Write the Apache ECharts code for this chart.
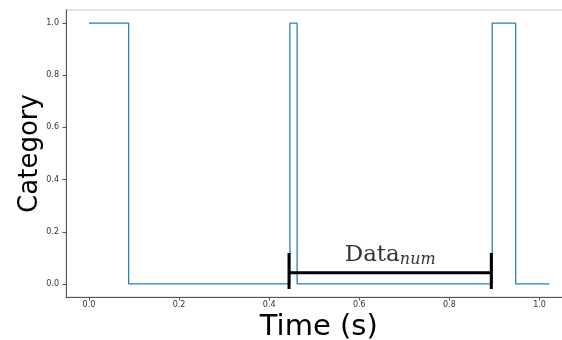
<!DOCTYPE html>
<html>
<head>
<meta charset="utf-8">
<script src="https://cdn.jsdelivr.net/npm/echarts@6/dist/echarts.min.js"></script>
<style>html,body{margin:0;padding:0;background:#fff;}#c{width:562px;height:340px;}</style>
</head>
<body>
<div id="c"></div>
<script>
// Signal transitions: value holds from each time until the next
var times = [0, 0.088, 0.446, 0.462, 0.895, 0.947, 1.022];
var values = [1, 0, 1, 0, 1, 0, 0];
var xTicks = [0, 0.2, 0.4, 0.6, 0.8, 1.0];
var yTicks = [0, 0.2, 0.4, 0.6, 0.8, 1.0];
// Annotation bracket
var bracketX = [0.444, 0.893];
var bracketY = 0.043;
var capY = [-0.019, 0.119];

var stepData = times.map(function (t, i) { return [t, values[i]]; });
var bracketData = [
  [bracketX[0], capY[0]], [bracketX[0], capY[1]], '-',
  [bracketX[0], bracketY], [bracketX[1], bracketY], '-',
  [bracketX[1], capY[0]], [bracketX[1], capY[1]]
];
var labelPoint = [[(bracketX[0] + bracketX[1]) / 2, bracketY]];

var chart = echarts.init(document.getElementById('c'), null, {renderer: 'canvas'});
var tickFmt = function (v) { return (+v).toFixed(1); };
chart.setOption({
  animation: false,
  grid: {left: 66, top: 10, right: -9.5, bottom: 43, outerBoundsMode: 'none', containLabel: false,
         show: true, borderColor: '#c8c8c8', borderWidth: 1, backgroundColor: 'transparent'},
  xAxis: {
    type: 'value', min: -0.051, max: 1.071,
    name: 'Time (s)', nameLocation: 'middle', nameGap: 16, nameMoveOverlap: false,
    nameTextStyle: {fontFamily: 'DejaVu Sans', fontSize: 29, color: '#000'},
    axisLine: {show: true, onZero: false, lineStyle: {color: '#555', width: 1}},
    axisTick: {show: true, length: 3.5, customValues: xTicks, lineStyle: {color: '#555'}},
    axisLabel: {customValues: xTicks, formatter: tickFmt, fontFamily: 'DejaVu Sans', fontSize: 8, color: '#333', margin: 4},
    splitLine: {show: false}
  },
  yAxis: {
    type: 'value', min: -0.05, max: 1.05,
    name: 'Category', nameLocation: 'middle', nameGap: 23, nameRotate: 90, nameMoveOverlap: false,
    nameTextStyle: {fontFamily: 'DejaVu Sans', fontSize: 26, color: '#000'},
    axisLine: {show: true, onZero: false, lineStyle: {color: '#555', width: 1}},
    axisTick: {show: true, length: 3.5, customValues: yTicks, lineStyle: {color: '#555'}},
    axisLabel: {customValues: yTicks, formatter: tickFmt, fontFamily: 'DejaVu Sans', fontSize: 8, color: '#333', margin: 7},
    splitLine: {show: false}
  },
  series: [
    {
      type: 'line', data: stepData, step: 'end', symbol: 'none',
      lineStyle: {color: '#2a7fbd', width: 1.3}, z: 2
    },
    {
      type: 'line', data: bracketData, symbol: 'none', connectNulls: false,
      lineStyle: {color: '#000', width: 3, cap: 'butt'}, z: 3
    },
    {
      type: 'scatter', data: labelPoint, symbolSize: 0, z: 4,
      label: {
        show: true, position: 'top', distance: 5,
        formatter: '{a|Data}{b|num}',
        rich: {
          a: {fontFamily: 'DejaVu Serif', fontSize: 23, color: '#000', lineHeight: 26, verticalAlign: 'middle'},
          b: {fontFamily: 'DejaVu Serif', fontStyle: 'italic', fontSize: 16, color: '#000', lineHeight: 26, verticalAlign: 'bottom'}
        }
      }
    }
  ]
});
</script>
</body>
</html>
